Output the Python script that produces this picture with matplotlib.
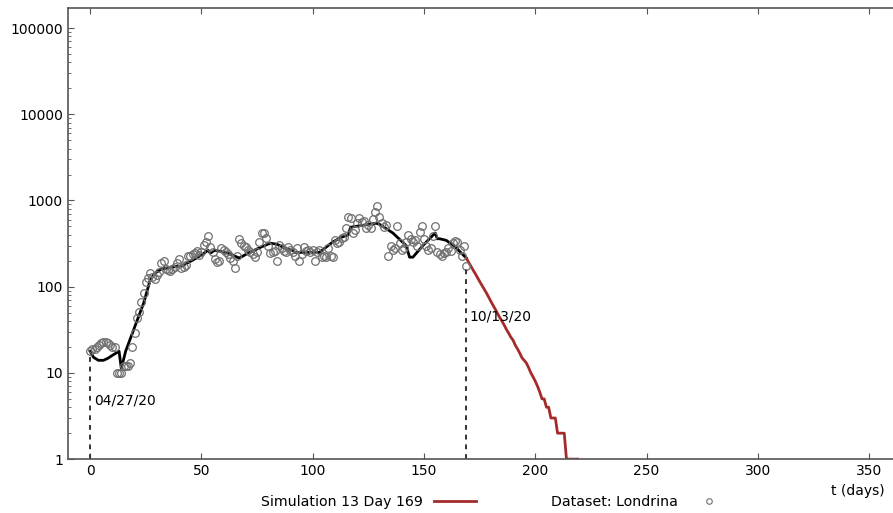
import numpy as np
import matplotlib.pyplot as plt
from matplotlib.lines import Line2D

# Daily reported cases, Londrina (day 0 = 04/27/20)
cases = [
    18, 19, 19, 20, 21, 22, 23, 23, 22, 21,
    20, 20, 10, 10, 10, 12, 12, 12, 13, 20,
    29, 43, 51, 66, 84, 113, 125, 143, 130, 123,
    136, 150, 188, 197, 160, 156, 152, 160, 169, 188,
    210, 163, 169, 178, 225, 230, 238, 245, 258, 232,
    250, 305, 330, 385, 290, 250, 210, 193, 200, 280,
    265, 250, 240, 215, 200, 165, 230, 355, 320, 300,
    290, 265, 250, 240, 220, 250, 330, 420, 420, 365,
    300, 245, 250, 260, 200, 305, 280, 260, 250, 290,
    270, 250, 230, 280, 200, 240, 290, 260, 270, 250,
    270, 200, 250, 270, 220, 230, 220, 280, 225, 220,
    350, 320, 330, 365, 380, 480, 650, 620, 420, 450,
    550, 620, 560, 580, 480, 520, 480, 610, 730, 860,
    640, 550, 490, 520, 230, 300, 265, 280, 500, 320,
    270, 280, 330, 400, 360, 330, 345, 300, 430, 500,
    360, 300, 265, 280, 385, 510, 250, 240, 230, 245,
    250, 280, 260, 320, 340, 330, 270, 230, 300, 173,
]
days = np.arange(len(cases))

# Fitted model over the observed period
fit_t = [0, 1.5, 3.7, 6, 8, 10, 13, 14, 16, 20, 24, 27, 29, 32, 37, 41, 46,
         50, 53, 54, 56, 62, 67, 71, 77, 81, 84, 89, 91, 92, 103, 109, 113,
         116, 117, 128.5, 130, 136, 142, 143.5, 145, 149.5, 155, 156, 157,
         160, 164, 169]
fit_y = [17.8, 15.2, 14, 14, 14.8, 16, 17.8, 11.3, 18, 34, 64, 120, 143,
         160, 170, 173, 203, 232, 265, 245, 265, 245, 215, 245, 290, 320,
         310, 270, 265, 250, 250, 330, 375, 400, 490, 545, 530, 420, 300,
         220, 220, 300, 420, 360, 360, 345, 290, 215]

# Simulated projection from day 169
sim_t = np.arange(169, 221)
sim_y = [215, 193, 174, 157, 142, 128, 115, 104, 94, 85,
         76, 68, 61, 55, 49, 44, 40, 36, 32, 29,
         26, 24, 21, 19, 17, 15, 14, 13, 11.5, 10,
         9, 8, 7, 6, 5, 5, 4, 4, 3, 3,
         3, 2, 2, 2, 2, 1, 1, 1, 1, 1,
         1, 1]

fig = plt.figure(figsize=(8.93, 5.13), dpi=100)
ax = fig.add_axes([0.076, 0.105, 0.924, 0.879])

ax.plot(fit_t, fit_y, color='black', lw=2)
ax.plot(sim_t[:-1], sim_y[:-1], color='#a52a2a', lw=2)
ax.plot(days, cases, ls='none', marker='o', ms=5.5, mfc='none',
        mec='#707070', mew=0.9)

# Start and end of the observed period
ax.plot([0, 0], [1, cases[0]], color='#333333', ls=(0, (2.5, 2.5)), lw=1.4)
ax.plot([169, 169], [1, cases[-1]], color='#333333', ls=(0, (2.5, 2.5)), lw=1.4)
ax.text(1.8, 4.8, '04/27/20', fontsize=10, va='center', ha='left')
ax.text(170.6, 45, '10/13/20', fontsize=10, va='center', ha='left')

ax.set_yscale('log')
ax.set_ylim(1, 1.7e5)
ax.set_xlim(-10, 360.7)
ax.set_xticks([0, 50, 100, 150, 200, 250, 300, 350])
ax.set_yticks([1, 10, 100, 1000, 10000, 100000])
ax.set_yticklabels(['1', '10', '100', '1000', '10000', '100000'])
ax.tick_params(axis='both', which='both', direction='in', labelsize=10,
               top=True, color='#555555')
ax.tick_params(axis='x', which='minor', top=False, bottom=False)
ax.tick_params(axis='y', which='minor', length=2.5)
ax.tick_params(axis='both', which='major', length=4)
ax.spines['right'].set_visible(False)
for s in ['left', 'bottom', 'top']:
    ax.spines[s].set_color('#555555')
    ax.spines[s].set_linewidth(1.2)

fig.text(0.961, 0.043, 't (days)', fontsize=10, ha='center', va='center')

handles = [Line2D([], [], color='#a52a2a', lw=2),
           Line2D([], [], ls='none', marker='o', ms=4, mfc='none',
                  mec='#707070', mew=0.8)]
fig.legend(handles, ['Simulation 13 Day 169', 'Dataset: Londrina'],
           loc='center', bbox_to_anchor=(0.555, 0.021), ncol=2,
           frameon=False, markerfirst=False, fontsize=10.2,
           handlelength=2.9, columnspacing=5.3)

fig.savefig('out.png', dpi=100)
